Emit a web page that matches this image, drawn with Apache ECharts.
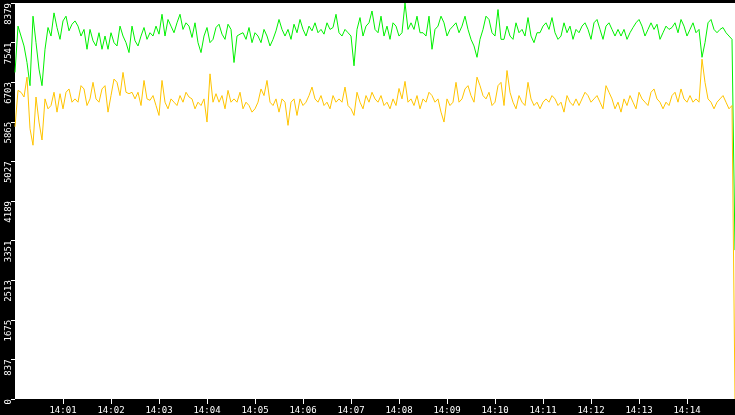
<!DOCTYPE html>
<html>
<head>
<meta charset="utf-8">
<script src="https://cdn.jsdelivr.net/npm/echarts@6.0.0/dist/echarts.min.js"></script>
<style>
  html, body { margin: 0; padding: 0; background: #000; }
  #chart { width: 735px; height: 415px; }
</style>
</head>
<body>
<div id="chart"></div>
<script>
// one sample every 3.75 s, 14:00:00 -> 14:15:00
const stepSec = 3.75;
const startHour = 14;

const green = [
  6910,7890,7680,7470,7120,6630,8100,7540,6980,6630, 7400,7860,7680,8170,7860,7610,8000,8100,7790,7930,
  8000,7890,7680,7820,7400,7820,7580,7470,7750,7400, 7680,7400,7750,7540,7470,7890,7680,7540,7330,7890,
  7580,7470,7680,7860,7610,7750,7680,7890,7720,8140, 7680,8030,7890,7750,7960,8140,7820,7960,7890,7650,
  7960,7540,7330,7680,7860,7540,7610,7860,7930,7720, 7610,7930,7820,7120,7680,7720,7750,7610,7860,7540,
  7750,7680,7540,7820,7680,7470,7610,7790,8030,7820, 7680,7820,7610,7930,7750,8030,7820,7680,7890,7790,
  7960,7750,7820,7720,7960,7820,7860,8140,7750,7680, 7820,7750,7680,7050,7820,8070,7680,7890,7960,8210,
  7820,7750,8100,7680,7890,7610,7960,7890,7680,7750, 8379,7820,7960,7820,8100,7750,7750,7680,8100,7400,
  7820,7890,8100,7960,7680,7820,7890,7960,7750,7890, 8100,7820,7610,7470,7230,7610,7820,8100,8030,7750,
  7680,8240,7610,7610,7890,7680,7610,7960,7750,7820, 7680,8070,7680,7540,7750,7750,7890,7960,7820,8070,
  7750,7610,7680,7960,7750,7890,7610,7820,7750,7890, 7960,7820,7610,7960,8030,7820,7610,7890,7960,7820,
  7680,
  7820,7680,7820,7610,7750,7860,7960,8030,7890,7680, 7820,7960,7820,7930,7610,7750,7890,7820,7860,7960,
  7750,8030,7890,7680,7820,7960,7750,7820,7230,7540, 7960,8030,7820,7750,7820,7860,7750,7680,7610,
  3150
];

const gold = [
  5760,6530,6490,6390,6810,5720,5370,6390,5860,5480, 6350,6140,6210,6490,6070,6460,6140,6490,6560,6280,
  6350,6280,6630,6560,6210,6350,6700,6350,6280,6560, 6630,6070,6420,6770,6700,6420,6910,6490,6460,6490,
  6350,6490,6210,6740,6350,6320,6420,6210,6000,6740, 6280,6140,6350,6280,6210,6420,6280,6490,6390,6350,
  6140,6280,6210,6350,5860,6880,6280,6460,6280,6420, 6140,6530,6280,6350,6280,6490,6140,6280,6210,6070,
  6140,6280,6560,6420,6740,6280,6210,6350,6070,6350, 6280,5790,6280,6350,6000,6350,6210,6280,6420,6600,
  6350,6280,6420,6210,6280,6140,6420,6280,6350,6280, 6600,6210,6140,6000,6490,6280,6140,6420,6280,6490,
  6350,6280,6420,6210,6280,6140,6350,6210,6570,6350, 6720,6280,6350,6210,6420,6140,6350,6280,6490,6420,
  6280,6350,6070,5860,6350,6210,6280,6700,6280,6350, 6560,6630,6420,6280,6810,6630,6420,6350,6490,6210,
  6280,6630,6700,6210,6950,6490,6280,6140,6420,6280, 6210,6700,6350,6210,6280,6140,6280,6350,6280,6420,
  6350,6210,6280,6070,6420,6280,6210,6350,6210,6350, 6490,6420,6280,6350,6420,6280,6140,6630,6490,6350,
  6140,
  6280,6070,6350,6210,6420,6280,6140,6490,6350,6280, 6210,6490,6560,6350,6280,6140,6280,6210,6420,6490,
  6280,6560,6350,6280,6420,6280,6350,6280,7190,6700, 6350,6280,6140,6280,6350,6420,6280,6140,6210,
  0
];

// minute ticks shown on the time axis (seconds after 14:00)
const minuteTicks = [60,120,180,240,300,360,420,480,540,600,660,720,780,840];
const yMax = 8379;
const yStep = 837.9;

const pad2 = n => (n < 10 ? '0' : '') + n;
const toPairs = arr => arr.map((v, i) => [i * stepSec, v]);

const chart = echarts.init(document.getElementById('chart'));
const labelFont = {
  color: '#fff',
  fontFamily: 'DejaVu Sans Mono',
  fontSize: 9
};

chart.setOption({
  animation: false,
  backgroundColor: '#000',
  grid: {
    left: 15, right: 0, top: 0, bottom: 16,
    show: true, backgroundColor: '#fff', borderWidth: 0
  },
  xAxis: {
    type: 'value',
    min: 0,
    max: 900,
    interval: 60,
    axisLine: { show: false },
    splitLine: { show: false },
    axisTick: {
      show: true, length: 5, customValues: minuteTicks,
      lineStyle: { color: '#fff', width: 1 }
    },
    axisLabel: Object.assign({
      margin: 7,
      customValues: minuteTicks,
      formatter: v => startHour + ':' + pad2(Math.round(v / 60))
    }, labelFont)
  },
  yAxis: {
    type: 'value',
    min: 0,
    max: yMax,
    interval: yStep,
    axisLine: { show: false },
    splitLine: { show: false },
    axisTick: {
      show: true, length: 4,
      lineStyle: { color: '#fff', width: 1 }
    },
    axisLabel: Object.assign({
      rotate: 90,
      align: 'right',
      margin: 2,
      showMinLabel: true,
      showMaxLabel: true,
      formatter: v => String(Math.floor(v + 1e-6))
    }, labelFont)
  },
  series: [
    {
      type: 'line',
      data: toPairs(green),
      showSymbol: false,
      sampling: null,
      lineStyle: { color: '#00f000', width: 1 },
      itemStyle: { color: '#00f000' }
    },
    {
      type: 'line',
      data: toPairs(gold),
      showSymbol: false,
      lineStyle: { color: '#ffc400', width: 1 },
      itemStyle: { color: '#ffc400' }
    }
  ]
});
</script>
</body>
</html>
